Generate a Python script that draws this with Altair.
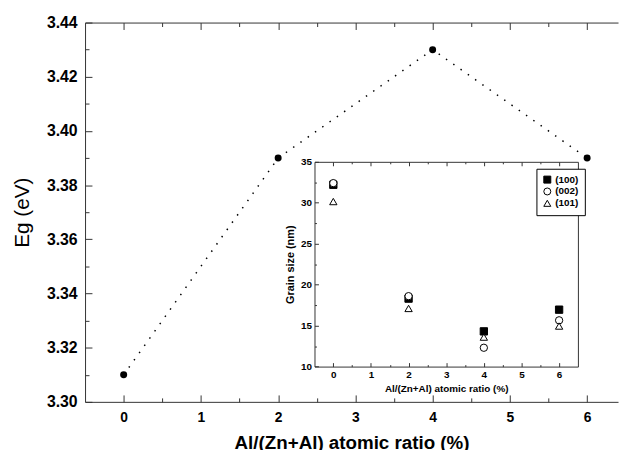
import altair as alt
import pandas as pd

# ---- data ----
ratio = [0, 2, 4, 6]
eg = [3.31, 3.39, 3.43, 3.39]

inset_ratio = [0, 2, 4, 6]
g100 = [32.2, 18.3, 14.3, 16.95]
g002 = [32.4, 18.6, 12.3, 15.65]
g101 = [30.15, 17.1, 13.6, 14.95]
planes = ["(100)", "(002)", "(101)"]

x_major = [0, 1, 2, 3, 4, 5, 6]
x_minor = [0.5, 1.5, 2.5, 3.5, 4.5, 5.5]
main_y_major = [3.30, 3.32, 3.34, 3.36, 3.38, 3.40, 3.42, 3.44]
main_y_minor = [3.31, 3.33, 3.35, 3.37, 3.39, 3.41, 3.43]
inset_y_major = [10, 15, 20, 25, 30, 35]
inset_y_minor = [12.5, 17.5, 22.5, 27.5, 32.5]

main_df = pd.DataFrame({"ratio": ratio, "eg": eg})
inset_df = pd.DataFrame({
    "ratio": inset_ratio * 3,
    "size": g100 + g002 + g101,
    "plane": [planes[0]] * 4 + [planes[1]] * 4 + [planes[2]] * 4,
    "k": [0] * 4 + [1] * 4 + [2] * 4,
})

# ---- geometry ----
W = 539.6
H = 384
FONT = "Liberation Sans"
DC = "#333333"

xs_main = alt.Scale(domain=[-0.5, 6.4], nice=False, zero=False)
ys_main = alt.Scale(domain=[3.30, 3.44], nice=False, zero=False)
ix0, ix1 = 232.3, 499.0
iy0, iy1 = 348.3, 141.0
xs_in = alt.Scale(domain=[-0.5, 6.5], range=[ix0, ix1], nice=False, zero=False)
ys_in = alt.Scale(domain=[10, 35], range=[iy0, iy1], nice=False, zero=False)


def tick_axis(orient, offset, values, size, domain=False):
    return alt.Axis(orient=orient, offset=offset, values=values, labels=False,
                    domain=domain, domainColor=DC, ticks=True, grid=False, title=None,
                    tickColor=DC, tickSize=size)


def tick_layer(df, xf, yf, xs, ys, xaxis, yaxis):
    return alt.Chart(df).mark_point(opacity=0).encode(
        x=alt.X(xf, scale=xs, axis=xaxis),
        y=alt.Y(yf, scale=ys, axis=yaxis),
    )


# ---- main data ----
ax_main_x = alt.Axis(orient="bottom", values=x_major, ticks=False, grid=False,
                     domain=True, domainColor=DC, labelFont=FONT, labelFontSize=14,
                     labelFontWeight="bold", labelColor="black", labelPadding=9,
                     title="Al/(Zn+Al) atomic ratio (%)", titleFont=FONT,
                     titleFontSize=19, titleFontWeight="bold", titleColor="black",
                     titlePadding=9)
ax_main_y = alt.Axis(orient="left", values=main_y_major, format=".2f", ticks=False,
                     grid=False, domain=True, domainColor=DC, labelFont=FONT,
                     labelFontSize=16, labelFontWeight="bold", labelColor="black",
                     labelPadding=8, title="Eg (eV)", titleFont=FONT, titleFontSize=21,
                     titleFontWeight="normal", titleColor="black", titlePadding=14)

line = alt.Chart(main_df).mark_line(
    strokeDash=[1.5, 7.5], strokeWidth=1.5, color="black"
).encode(
    x=alt.X("ratio:Q", scale=xs_main, axis=ax_main_x),
    y=alt.Y("eg:Q", scale=ys_main, axis=ax_main_y),
)
pts = alt.Chart(main_df).mark_point(filled=True, size=50, color="black", opacity=1).encode(
    x=alt.X("ratio:Q", scale=xs_main, axis=None),
    y=alt.Y("eg:Q", scale=ys_main, axis=None),
)

# ---- main inward ticks ----
m1 = tick_layer(main_df, "ratio:Q", "eg:Q", xs_main, ys_main,
                tick_axis("top", -H, x_major, 7), tick_axis("right", -W, main_y_major, 7))
m2 = tick_layer(main_df, "ratio:Q", "eg:Q", xs_main, ys_main,
                tick_axis("top", -H, x_minor, 4), tick_axis("right", -W, main_y_minor, 4))
m3 = tick_layer(main_df, "ratio:Q", "eg:Q", xs_main, ys_main,
                tick_axis("bottom", -H, x_major, 7, domain=True), None)
m4 = tick_layer(main_df, "ratio:Q", "eg:Q", xs_main, ys_main,
                tick_axis("bottom", -H, x_minor, 4), None)

# ---- inset ----
ax_in_x = alt.Axis(orient="bottom", offset=iy0 - H, values=x_major, ticks=False,
                   grid=False, domain=True, domainColor=DC, labelFont=FONT,
                   labelFontSize=10, labelFontWeight="bold", labelColor="black",
                   labelPadding=3, title="Al/(Zn+Al) atomic ratio (%)", titleFont=FONT,
                   titleFontSize=10, titleFontWeight="bold", titleColor="black",
                   titlePadding=4)
ax_in_y = alt.Axis(orient="left", offset=-ix0, values=inset_y_major, ticks=False,
                   grid=False, domain=True, domainColor=DC, labelFont=FONT,
                   labelFontSize=10, labelFontWeight="bold", labelColor="black",
                   labelPadding=3, title="Grain size (nm)", titleFont=FONT,
                   titleFontSize=11, titleFontWeight="bold", titleColor="black",
                   titlePadding=5)

leg = alt.Legend(orient="none", legendX=457, legendY=148, title=None,
                 strokeColor="black", padding=6, labelFont=FONT, labelFontSize=10,
                 labelFontWeight="bold", labelColor="black", symbolSize=50,
                 symbolStrokeWidth=1, rowPadding=0, labelOffset=3, fillColor="white")

inset_pts = alt.Chart(inset_df).mark_point(
    filled=True, size=55, strokeWidth=1, opacity=1
).encode(
    x=alt.X("ratio:Q", scale=xs_in, axis=ax_in_x),
    y=alt.Y("size:Q", scale=ys_in, axis=ax_in_y),
    shape=alt.Shape("plane:N", scale=alt.Scale(domain=planes,
                    range=["square", "circle", "triangle-up"]), legend=leg),
    fill=alt.Fill("plane:N", scale=alt.Scale(domain=planes,
                  range=["black", "white", "white"]), legend=leg),
    stroke=alt.Stroke("plane:N", scale=alt.Scale(domain=planes,
                      range=["black", "black", "black"]), legend=leg),
    order=alt.Order("k:Q"),
)

i1 = tick_layer(inset_df, "ratio:Q", "size:Q", xs_in, ys_in,
                tick_axis("top", -iy0, x_major, 4),
                tick_axis("right", ix0 - W, inset_y_major, 4))
i2 = tick_layer(inset_df, "ratio:Q", "size:Q", xs_in, ys_in,
                tick_axis("top", -iy0, x_minor, 2),
                tick_axis("right", ix0 - W, inset_y_minor, 2))
i3 = tick_layer(inset_df, "ratio:Q", "size:Q", xs_in, ys_in,
                tick_axis("bottom", iy1 - H, x_major, 4, domain=True),
                alt.Axis(orient="left", offset=-ix1, labels=False, domain=True,
                         domainColor=DC, ticks=False, grid=False, title=None))
i4 = tick_layer(inset_df, "ratio:Q", "size:Q", xs_in, ys_in,
                tick_axis("bottom", iy1 - H, x_minor, 2), None)

chart = alt.layer(
    line, pts, m1, m2, m3, m4, inset_pts, i1, i2, i3, i4
).resolve_scale(
    x="independent", y="independent"
).properties(
    width=W, height=H,
    autosize=alt.AutoSizeParams(type="none"),
    padding={"left": 78, "top": 12, "right": 2, "bottom": 46},
).configure_view(stroke=None)

chart.save("out.html", embed_options={"renderer": "svg", "actions": False})
